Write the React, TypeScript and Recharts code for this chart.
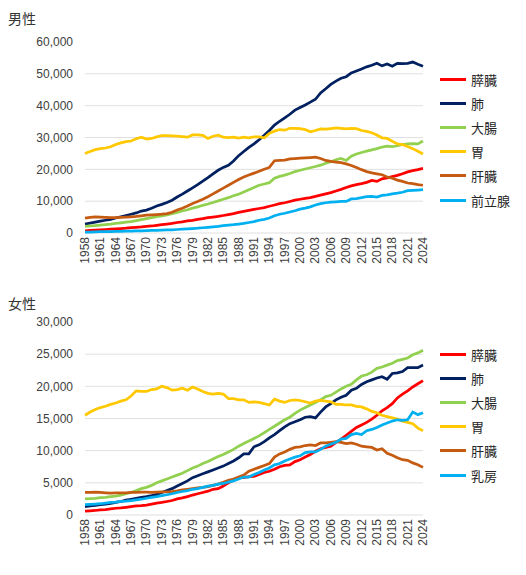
import React from 'react';
import { LineChart, Line, XAxis, YAxis, CartesianGrid } from 'recharts';

// 1958 - 2024
const years = [
  1958, 1959, 1960, 1961, 1962, 1963, 1964, 1965, 1966, 1967,
  1968, 1969, 1970, 1971, 1972, 1973, 1974, 1975, 1976, 1977,
  1978, 1979, 1980, 1981, 1982, 1983, 1984, 1985, 1986, 1987,
  1988, 1989, 1990, 1991, 1992, 1993, 1994, 1995, 1996, 1997,
  1998, 1999, 2000, 2001, 2002, 2003, 2004, 2005, 2006, 2007,
  2008, 2009, 2010, 2011, 2012, 2013, 2014, 2015, 2016, 2017,
  2018, 2019, 2020, 2021, 2022, 2023, 2024,
];

const yearTicks = [
  1958, 1961, 1964, 1967, 1970, 1973, 1976, 1979, 1982, 1985, 1988, 1991,
  1994, 1997, 2000, 2003, 2006, 2009, 2012, 2015, 2018, 2021, 2024,
];

const maleTicks = [0, 10000, 20000, 30000, 40000, 50000, 60000];
const femaleTicks = [0, 5000, 10000, 15000, 20000, 25000, 30000];

// 男性
const malePancreas = [
  700, 800, 900, 1000, 1100, 1200, 1300, 1400, 1500, 1700,
  1800, 1900, 2100, 2200, 2400, 2600, 2800, 3000, 3300, 3500,
  3800, 4000, 4300, 4500, 4800, 5000, 5200, 5500, 5800, 6100,
  6500, 6800, 7100, 7400, 7700, 8000, 8400, 8800, 9200, 9500,
  9900, 10300, 10600, 10900, 11100, 11500, 11900, 12300, 12700, 13200,
  13700, 14300, 14800, 15200, 15500, 15900, 16500, 16200, 17000, 17300,
  17700, 18100, 18600, 19200, 19600, 19900, 20300,
];
const maleLung = [
  2800, 3100, 3400, 3700, 4000, 4300, 4700, 5100, 5500, 5900,
  6300, 6900, 7200, 7800, 8500, 9000, 9600, 10300, 11300, 12200,
  13200, 14200, 15200, 16300, 17400, 18600, 19700, 20600, 21300, 22600,
  24300, 25600, 26900, 28000, 29300, 30700, 32200, 33900, 35100, 36200,
  37300, 38600, 39400, 40200, 41100, 42000, 44000, 45300, 46700, 47700,
  48600, 49100, 50300, 50900, 51500, 52200, 52700, 53300, 52500, 53100,
  52400, 53300, 53200, 53300, 53700, 53000, 52400,
];
const maleColon = [
  2100, 2200, 2350, 2500, 2650, 2800, 3000, 3200, 3400, 3600,
  3900, 4200, 4500, 4800, 5100, 5400, 5700, 6100, 6500, 6900,
  7300, 7800, 8200, 8700, 9100, 9600, 10100, 10600, 11100, 11700,
  12200, 12900, 13600, 14300, 15000, 15400, 15800, 17200, 17800, 18200,
  18700, 19300, 19700, 20100, 20500, 20900, 21300, 21900, 22400, 23000,
  23400, 22800, 24100, 24800, 25300, 25700, 26100, 26500, 27000, 27300,
  27100, 27400, 27800, 28000, 28100, 28000, 28900,
];
const maleStomach = [
  25000, 25600, 26200, 26500, 26700, 27100, 27800, 28300, 28700, 28900,
  29600, 30100, 29500, 29700, 30200, 30600, 30600, 30500, 30400, 30300,
  30100, 30800, 30800, 30700, 29700, 30400, 30700, 30100, 30000, 30100,
  29800, 30100, 29900, 30200, 30200, 29900, 31300, 32000, 32500, 32300,
  32900, 32900, 32800, 32500, 31800, 32200, 32700, 32600, 32800, 33000,
  32900, 32700, 32900, 32800, 32200, 31900, 31500, 30800, 29900, 29700,
  28800, 28000, 27800, 27200, 26500, 25700, 24800,
];
const maleLiver = [
  4700, 4900, 5100, 5000, 4900, 4800, 4800, 4900, 5000, 5100,
  5200, 5400, 5600, 5700, 5800, 5900, 6100, 6500, 7200, 7800,
  8500, 9300, 9900, 10600, 11400, 12300, 13200, 14100, 15000, 15900,
  16800, 17600, 18200, 18800, 19400, 20000, 20600, 22700, 22800, 22900,
  23300, 23400, 23500, 23600, 23700, 23800, 23400, 22800, 22500, 22300,
  22100, 21700, 21200, 20600, 19900, 19300, 18900, 18600, 18300, 17600,
  17200, 16600, 16200, 15700, 15500, 15200, 15000,
];
const maleProstate = [
  300, 300, 350, 400, 400, 450, 500, 500, 550, 600,
  650, 700, 750, 800, 850, 900, 950, 1000, 1100, 1200,
  1300, 1400, 1500, 1650, 1800, 1950, 2100, 2300, 2450, 2600,
  2800, 3000, 3300, 3600, 4000, 4300, 4700, 5400, 5900, 6200,
  6600, 7000, 7500, 7800, 8200, 8800, 9200, 9500, 9700, 9800,
  9900, 9900, 10700, 10800, 11100, 11400, 11500, 11300, 11800, 12000,
  12300, 12500, 12800, 13300, 13400, 13500, 13600,
];

// 女性
const femalePancreas = [
  600, 650, 700, 800, 850, 950, 1050, 1100, 1200, 1300,
  1400, 1450, 1550, 1700, 1850, 1950, 2100, 2250, 2500, 2650,
  2850, 3100, 3300, 3500, 3700, 4000, 4100, 4500, 5000, 5400,
  5800, 5800, 5950, 6000, 6300, 6600, 6800, 7100, 7500, 7700,
  7800, 8300, 8600, 9000, 9400, 9900, 10300, 10500, 10700, 11300,
  11800, 12400, 13000, 13600, 14000, 14400, 14900, 15500, 16200, 16700,
  17300, 18200, 18800, 19300, 19900, 20400, 20900,
];
const femaleLung = [
  1300, 1400, 1500, 1600, 1700, 1800, 1950, 2100, 2300, 2450,
  2600, 2750, 2850, 3000, 3200, 3500, 3800, 4100, 4500, 4900,
  5300, 5800, 6100, 6400, 6700, 7000, 7300, 7600, 8000, 8400,
  8900, 9500, 9500, 10600, 10900, 11400, 12000, 12500, 13100, 13700,
  14200, 14500, 14800, 15200, 15300, 15100, 16000, 16800, 17300, 17900,
  18300, 18600, 19400, 19700, 20300, 20700, 21000, 21300, 21500, 21100,
  22000, 22100, 22300, 22900, 22900, 22900, 23300,
];
const femaleColon = [
  2500, 2550, 2600, 2700, 2750, 2850, 2950, 3100, 3300, 3500,
  3800, 4100, 4300, 4600, 5000, 5300, 5600, 5900, 6200, 6500,
  6900, 7300, 7600, 8000, 8300, 8700, 9100, 9400, 9800, 10200,
  10700, 11100, 11500, 11900, 12300, 12800, 13300, 13800, 14300, 14800,
  15200, 15800, 16300, 16700, 17100, 17500, 17900, 18400, 18600, 19100,
  19600, 20000, 20300, 21000, 21600, 21800, 22200, 22800, 23000, 23300,
  23600, 24000, 24200, 24400, 24900, 25200, 25600,
];
const femaleStomach = [
  15500, 16000, 16400, 16700, 16900, 17200, 17400, 17700, 17900, 18500,
  19300, 19200, 19200, 19500, 19600, 20000, 19800, 19400, 19500, 19700,
  19400, 19900, 19600, 19200, 18900, 18800, 18900, 18800, 18100, 18100,
  17900, 17900, 17500, 17600, 17500, 17300, 17100, 18000, 17700, 17500,
  17800, 17900, 17800, 17600, 17400, 17700, 17800, 17700, 17600, 17200,
  17200, 17100, 17100, 16900, 16800, 16500, 16100, 15900, 15500, 15300,
  15100, 14900, 14600, 14400, 14200, 13500, 13100,
];
const femaleLiver = [
  3500, 3500, 3550, 3500, 3450, 3400, 3450, 3450, 3450, 3500,
  3500, 3550, 3550, 3500, 3550, 3600, 3600, 3650, 3750, 3900,
  4000, 4100, 4200, 4300, 4400, 4600, 4800, 5100, 5400, 5600,
  5900, 6200, 6800, 7100, 7400, 7700, 8000, 9000, 9500, 9800,
  10200, 10500, 10600, 10800, 10900, 10800, 11200, 11200, 11300, 11400,
  11300, 11100, 11200, 11000, 10700, 10600, 10500, 10100, 10300, 9600,
  9300, 8900, 8600, 8500, 8100, 7800, 7400,
];
const femaleBreast = [
  1600, 1650, 1700, 1750, 1850, 1950, 2000, 2100, 2150, 2250,
  2350, 2450, 2600, 2750, 2850, 3000, 3150, 3300, 3500, 3650,
  3800, 4000, 4100, 4300, 4500, 4600, 4800, 4900, 5100, 5300,
  5600, 5900, 5900, 6300, 6600, 7000, 7300, 7800, 8000, 8400,
  8700, 9000, 9200, 9700, 9800, 9800, 10200, 10700, 11000, 11300,
  11800, 11900, 12500, 12700, 12500, 13100, 13300, 13600, 14000, 14300,
  14600, 14800, 14700, 14800, 16000, 15600, 15900,
];

const FONT = '"Liberation Sans", Arial, "Noto Sans CJK JP", sans-serif';
const TEXT = '#404040';

const maleSeries = [
  { key: 'pancreas', name: '膵臓', color: '#FF0000', values: malePancreas },
  { key: 'lung', name: '肺', color: '#002060', values: maleLung },
  { key: 'colon', name: '大腸', color: '#92D050', values: maleColon },
  { key: 'stomach', name: '胃', color: '#FFC800', values: maleStomach },
  { key: 'liver', name: '肝臓', color: '#C55A11', values: maleLiver },
  { key: 'prostate', name: '前立腺', color: '#00B0F0', values: maleProstate },
];

const femaleSeries = [
  { key: 'pancreas', name: '膵臓', color: '#FF0000', values: femalePancreas },
  { key: 'lung', name: '肺', color: '#002060', values: femaleLung },
  { key: 'colon', name: '大腸', color: '#92D050', values: femaleColon },
  { key: 'stomach', name: '胃', color: '#FFC800', values: femaleStomach },
  { key: 'liver', name: '肝臓', color: '#C55A11', values: femaleLiver },
  { key: 'breast', name: '乳房', color: '#00B0F0', values: femaleBreast },
];

function toRows(series) {
  return years.map((year, i) => {
    const row = { year };
    series.forEach((s) => {
      row[s.key] = s.values[i];
    });
    return row;
  });
}

const YearTick = ({ x, y, payload }) => (
  <text
    x={x}
    y={y}
    transform={`rotate(-90 ${x} ${y})`}
    textAnchor="end"
    dominantBaseline="central"
    fontSize={12}
    fontFamily={FONT}
    fill={TEXT}
  >
    {payload.value}
  </text>
);

function SexPanel({ title, top, height, plotTop, axisHeight, series, ticks, legendTop }) {
  const rows = toRows(series);
  return (
    <div style={{ position: 'absolute', left: 0, top, width: 526, height }}>
      <div
        style={{
          position: 'absolute',
          left: 8,
          top: 8,
          fontSize: 14,
          lineHeight: '20px',
          color: '#333',
          fontFamily: '"Noto Sans CJK JP", sans-serif',
        }}
      >
        {title}
      </div>
      <LineChart
        width={526}
        height={height}
        data={rows}
        margin={{ top: plotTop, right: 103, bottom: 0, left: 0 }}
      >
        {/* no line along the top of the plot, as in the source */}
        <CartesianGrid vertical={false} stroke="#e0e0e0" horizontalValues={ticks.slice(0, -1)} />
        <XAxis
          dataKey="year"
          type="number"
          domain={[1958, 2024]}
          ticks={yearTicks}
          interval={0}
          height={axisHeight}
          axisLine={false}
          tickLine={false}
          tickSize={0}
          tickMargin={4}
          tick={<YearTick />}
        />
        <YAxis
          width={85}
          domain={[0, ticks[ticks.length - 1]]}
          ticks={ticks}
          interval={0}
          axisLine={false}
          tickLine={false}
          tickSize={0}
          tickMargin={12}
          tick={{ fontSize: 12, fill: TEXT, fontFamily: FONT }}
          tickFormatter={(v) => v.toLocaleString('en-US')}
        />
        {series.map((s) => (
          <Line
            key={s.key}
            dataKey={s.key}
            name={s.name}
            stroke={s.color}
            strokeWidth={2.75}
            dot={false}
            activeDot={false}
            isAnimationActive={false}
          />
        ))}
      </LineChart>
      <div style={{ position: 'absolute', left: 440, top: legendTop }}>
        {series.map((s) => (
          <div key={s.key} style={{ display: 'flex', alignItems: 'center', height: 24.2 }}>
            <span style={{ width: 26, height: 3, background: s.color, marginRight: 5 }} />
            <span
              style={{
                fontSize: 13,
                color: '#262626',
                fontFamily: '"Noto Sans CJK JP", sans-serif',
              }}
            >
              {s.name}
            </span>
          </div>
        ))}
      </div>
    </div>
  );
}

export default function App() {
  return (
    <div style={{ position: 'absolute', left: 0, top: 0, width: 526, height: 575, background: '#fff' }}>
      <SexPanel
        title="男性"
        top={0}
        height={285}
        plotTop={42}
        axisHeight={52}
        series={maleSeries}
        ticks={maleTicks}
        legendTop={67}
      />
      <SexPanel
        title="女性"
        top={285}
        height={290}
        plotTop={37}
        axisHeight={60}
        series={femaleSeries}
        ticks={femaleTicks}
        legendTop={57}
      />
    </div>
  );
}
